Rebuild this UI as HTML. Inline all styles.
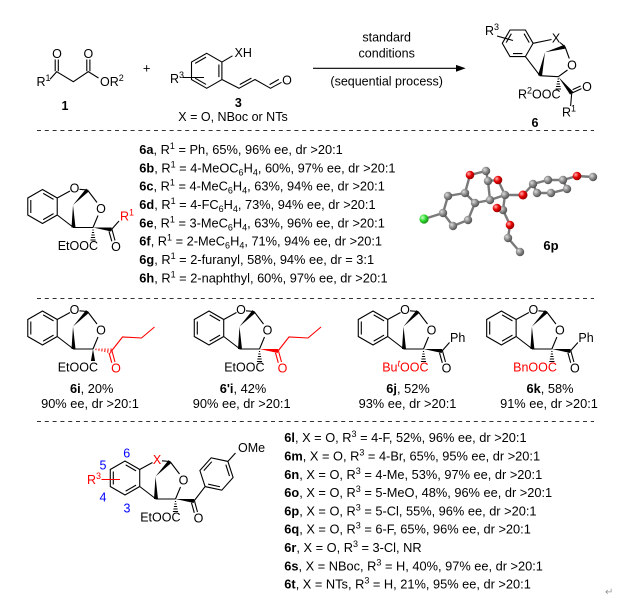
<!DOCTYPE html>
<html><head><meta charset="utf-8">
<style>
html,body{margin:0;padding:0;background:#fff;}
svg{display:block;font-family:"Liberation Sans",Arial,sans-serif;}
</style></head><body>
<svg width="625" height="607" viewBox="0 0 625 607" xmlns="http://www.w3.org/2000/svg">
<defs>
<radialGradient id="gg" cx="35%" cy="35%" r="70%"><stop offset="0" stop-color="#dcdcdc"/><stop offset="0.5" stop-color="#8c8c8c"/><stop offset="1" stop-color="#4a4a4a"/></radialGradient>
<radialGradient id="gr" cx="35%" cy="35%" r="70%"><stop offset="0" stop-color="#ffb0b0"/><stop offset="0.5" stop-color="#e60000"/><stop offset="1" stop-color="#8a0000"/></radialGradient>
<radialGradient id="gc" cx="35%" cy="35%" r="70%"><stop offset="0" stop-color="#c8ffc8"/><stop offset="0.5" stop-color="#33dd33"/><stop offset="1" stop-color="#118811"/></radialGradient>
</defs>

<!-- ===== Top reaction ===== -->
<g font-size="12.5" fill="#000">
<!-- reactant 1 -->
<g fill="none" stroke="#000" stroke-width="1.1">
<path d="M50,79.3L56.7,71.7L73.3,81.7L88.3,71.7L98.5,78 M55.2,71.2L55.2,59.5 M58.3,71.2L58.3,59.5 M86.8,71.2L86.8,59.5 M89.9,71.2L89.9,59.5"/>
</g>
<text x="57" y="58" text-anchor="middle">O</text>
<text x="88.4" y="58" text-anchor="middle">O</text>
<text x="36.5" y="86">R<tspan font-size="9" dy="-5">1</tspan></text>
<text x="100" y="86">OR<tspan font-size="9" dy="-5">2</tspan></text>
<text x="65" y="110" text-anchor="middle" font-weight="bold">1</text>
<text x="146.7" y="72.5" text-anchor="middle" font-size="13">+</text>

<!-- reactant 3 -->
<g fill="none" stroke="#000" stroke-width="1.1">
<path d="M206.7,53.3L221.9,62.05L221.9,79.55L206.7,88.3L191.5,79.55L191.5,62.05Z M218.9,64.5L218.9,77.1 M195.17,63.4L206.03,57.15 M195.17,78.2L206.03,84.45 M221.9,62.05L232.5,55.8 M221.9,79.55L239,88.3L255,79.55L270.5,88.3L281.5,82.3 M239.8,84.5L251.4,78.1 M269.6,84.6L278.8,79.4 M183,77.5L204,77.5"/>
</g>
<text x="234.5" y="57">XH</text>
<text x="287" y="84.5" text-anchor="middle">O</text>
<text x="170" y="83">R<tspan font-size="9" dy="-5">3</tspan></text>
<text x="238.3" y="107" text-anchor="middle" font-weight="bold">3</text>
<text x="233" y="121" text-anchor="middle">X = O, NBoc or NTs</text>

<!-- arrow -->
<line x1="313" y1="68.3" x2="458" y2="68.3" stroke="#000" stroke-width="1.1"/>
<polygon points="465.7,68.3 456,64.9 456,71.7" fill="#000"/>
<text x="386.7" y="41.7" text-anchor="middle">standard</text>
<text x="386.7" y="57.5" text-anchor="middle">conditions</text>
<text x="386.7" y="85.5" text-anchor="middle">(sequential process)</text>

<!-- product 6 -->
<g fill="none" stroke="#000" stroke-width="1.1">
<path d="M510,30L525.4,30L533.1,43.3L525.4,56.6L510,56.6L502.3,43.3Z M524.05,33.67L529.25,42.63 M513,53.6L522.4,53.6 M506.15,42.63L511.35,33.67 M497,36L513,40.5 M533.1,43.3L551.5,39.5 M560,42.5L565,46.7 M525.4,56.6L540,75.7L558.3,76.7 M565,46.7L569.3,58.5 M558.3,76.7L567.5,70 M571.7,93.3L570.6,106 M572,93L581.5,88.6 M572.6,89.6L580.6,86"/>
<path stroke-width="1" d="M557.6,79h1.4 M557.1,81.5h2.4 M556.6,84h3.4 M556.1,86.5h4.4 M555.6,89h5.4"/>
</g>
<polygon points="545,52.3 565.5,48.6 564.5,44.8" fill="#000"/>
<polygon points="545,52.3 542,76.1 538,75.3" fill="#000"/>
<polygon points="558.3,76.7 573.3,92 570.1,94.6" fill="#000"/>
<text x="485" y="35">R<tspan font-size="9" dy="-5">3</tspan></text>
<text x="556" y="42.5" text-anchor="middle">X</text>
<text x="572" y="69.5" text-anchor="middle">O</text>
<text x="560.5" y="98.3" text-anchor="end">R<tspan font-size="9" dy="-5">2</tspan><tspan dy="5">OOC</tspan></text>
<text x="587" y="91" text-anchor="middle">O</text>
<text x="562" y="116.7">R<tspan font-size="9" dy="-5">1</tspan></text>
<text x="535" y="127" text-anchor="middle" font-weight="bold">6</text>
</g>

<!-- separators -->
<g stroke="#333" stroke-width="1" stroke-dasharray="4,3.8">
<line x1="37" y1="130.5" x2="594" y2="130.5"/>
<line x1="37" y1="298.5" x2="594" y2="298.5"/>
<line x1="37" y1="421.5" x2="594" y2="421.5"/>
</g>

<!-- ===== 6a ===== -->
<g transform="translate(42.5,206.5)" font-size="12.5">
<path fill="none" stroke="#000" stroke-width="1.1" d="M0,-17L14.72,-8.5L14.72,8.5L0,17L-14.72,8.5L-14.72,-8.5Z M-11.7,-6.5L-11.7,6.5 M0.67,-13.15L11.05,-7.15 M0.67,13.15L11.05,7.15 M14.72,-8.5L27.5,-15.5 M37,-17.2L45,-16.5 M14.72,8.5L31,21L50.5,21 M45,-16.5L54.5,-4 M50.5,21L55.5,9 M69.5,23L72.5,34 M66.5,24.8L69.3,34.8 M69,23L76.5,14.5"/>
<path stroke="#000" stroke-width="1" d="M49.9,23.5h1.2 M49.4,26h2.2 M48.9,28.5h3.2 M48.4,31h4.2 M47.9,33.5h5.2"/>
<polygon points="30.5,-1.5 46.4,-15.1 43.6,-17.9"/>
<polygon points="30.5,-1.5 33,21 29,21"/>
<polygon points="50.5,21 68.8,25 69.2,21"/>
<text x="32" y="-14" text-anchor="middle">O</text>
<text x="58.5" y="6.5" text-anchor="middle">O</text>
<text x="73.5" y="44.5" text-anchor="middle">O</text>
<text x="55.5" y="43.5" text-anchor="end">EtOOC</text>
<text x="77.5" y="14" fill="#f00">R<tspan font-size="9" dy="-5">1</tspan></text>
</g>

<!-- list 6a-6h -->
<g font-size="12.8" fill="#000">
<text x="139.3" y="154"><tspan font-weight="bold">6a</tspan>, R<tspan font-size="9" dy="-5">1</tspan><tspan dy="5"> = Ph, 65%, 96% ee, dr &gt;20:1</tspan></text>
<text x="139.3" y="172.3"><tspan font-weight="bold">6b</tspan>, R<tspan font-size="9" dy="-5">1</tspan><tspan dy="5"> = 4-MeOC</tspan><tspan font-size="9" dy="3">6</tspan><tspan dy="-3">H</tspan><tspan font-size="9" dy="3">4</tspan><tspan dy="-3">, 60%, 97% ee, dr &gt;20:1</tspan></text>
<text x="139.3" y="190.7"><tspan font-weight="bold">6c</tspan>, R<tspan font-size="9" dy="-5">1</tspan><tspan dy="5"> = 4-MeC</tspan><tspan font-size="9" dy="3">6</tspan><tspan dy="-3">H</tspan><tspan font-size="9" dy="3">4</tspan><tspan dy="-3">, 63%, 94% ee, dr &gt;20:1</tspan></text>
<text x="139.3" y="209"><tspan font-weight="bold">6d</tspan>, R<tspan font-size="9" dy="-5">1</tspan><tspan dy="5"> = 4-FC</tspan><tspan font-size="9" dy="3">6</tspan><tspan dy="-3">H</tspan><tspan font-size="9" dy="3">4</tspan><tspan dy="-3">, 73%, 94% ee, dr &gt;20:1</tspan></text>
<text x="139.3" y="227.3"><tspan font-weight="bold">6e</tspan>, R<tspan font-size="9" dy="-5">1</tspan><tspan dy="5"> = 3-MeC</tspan><tspan font-size="9" dy="3">6</tspan><tspan dy="-3">H</tspan><tspan font-size="9" dy="3">4</tspan><tspan dy="-3">, 63%, 96% ee, dr &gt;20:1</tspan></text>
<text x="139.3" y="245.7"><tspan font-weight="bold">6f</tspan>, R<tspan font-size="9" dy="-5">1</tspan><tspan dy="5"> = 2-MeC</tspan><tspan font-size="9" dy="3">6</tspan><tspan dy="-3">H</tspan><tspan font-size="9" dy="3">4</tspan><tspan dy="-3">, 71%, 94% ee, dr &gt;20:1</tspan></text>
<text x="139.3" y="264"><tspan font-weight="bold">6g</tspan>, R<tspan font-size="9" dy="-5">1</tspan><tspan dy="5"> = 2-furanyl, 58%, 94% ee, dr = 3:1</tspan></text>
<text x="139.3" y="282.3"><tspan font-weight="bold">6h</tspan>, R<tspan font-size="9" dy="-5">1</tspan><tspan dy="5"> = 2-naphthyl, 60%, 97% ee, dr &gt;20:1</tspan></text>
</g>

<!-- 6p crystal structure -->
<g stroke="#7a7a7a" stroke-width="2.4" stroke-linecap="round" fill="none">
<path d="M424,219L443,213L448,196L465,193L470,175L486,171L488,181L498,180L505,195 M465,193L475,203L468,220L453,226L443,213 M475,203L490,200L488,181 M490,200L505,195L503,210L497,208 M503,210L510,225L508,238L520,252 M505,195L523,195L533,184 M533,184L548,180L563,180L567,189L551,193L537,193L533,184 M563,180L577,176L593,177"/>
</g>
<g>
<circle cx="453" cy="226" r="4.2" fill="url(#gg)"/>
<circle cx="468" cy="220" r="4.2" fill="url(#gg)"/>
<circle cx="443" cy="213" r="4.2" fill="url(#gg)"/>
<circle cx="448" cy="196" r="4.2" fill="url(#gg)"/>
<circle cx="465" cy="193" r="4.2" fill="url(#gg)"/>
<circle cx="475" cy="203" r="4.2" fill="url(#gg)"/>
<circle cx="486" cy="171" r="4.2" fill="url(#gg)"/>
<circle cx="488" cy="181" r="4.2" fill="url(#gg)"/>
<circle cx="490" cy="200" r="4.2" fill="url(#gg)"/>
<circle cx="505" cy="195" r="4.2" fill="url(#gg)"/>
<circle cx="503" cy="210" r="4.2" fill="url(#gg)"/>
<circle cx="508" cy="238" r="4.2" fill="url(#gg)"/>
<circle cx="520" cy="252" r="4.2" fill="url(#gg)"/>
<circle cx="537" cy="193" r="4.2" fill="url(#gg)"/>
<circle cx="551" cy="193" r="4.2" fill="url(#gg)"/>
<circle cx="533" cy="184" r="4.2" fill="url(#gg)"/>
<circle cx="548" cy="180" r="4.2" fill="url(#gg)"/>
<circle cx="567" cy="189" r="4.2" fill="url(#gg)"/>
<circle cx="563" cy="180" r="4.2" fill="url(#gg)"/>
<circle cx="593" cy="177" r="4.2" fill="url(#gg)"/>
<circle cx="470" cy="175" r="4.3" fill="url(#gr)"/>
<circle cx="498" cy="180" r="4.3" fill="url(#gr)"/>
<circle cx="497" cy="208" r="4.3" fill="url(#gr)"/>
<circle cx="510" cy="225" r="4.3" fill="url(#gr)"/>
<circle cx="523" cy="195" r="4.5" fill="url(#gr)"/>
<circle cx="577" cy="176" r="4.3" fill="url(#gr)"/>
<circle cx="424" cy="219" r="4.6" fill="url(#gc)"/>
</g>
<text x="551" y="250" text-anchor="middle" font-size="13" font-weight="bold">6p</text>

<!-- ===== 6i ===== -->
<g transform="translate(42.5,328)" font-size="12.5">
<path fill="none" stroke="#000" stroke-width="1.1" d="M0,-17L14.72,-8.5L14.72,8.5L0,17L-14.72,8.5L-14.72,-8.5Z M-11.7,-6.5L-11.7,6.5 M0.67,-13.15L11.05,-7.15 M0.67,13.15L11.05,7.15 M14.72,-8.5L27.5,-15.5 M37,-17.2L45,-16.5 M14.72,8.5L31,21L50.5,21 M45,-16.5L54.5,-4 M50.5,21L55.5,9"/>
<polygon points="30.5,-1.5 46.4,-15.1 43.6,-17.9"/>
<polygon points="30.5,-1.5 33,21 29,21"/>
<polygon points="50.5,21 52.6,33 48.4,33"/>
<path stroke="#f00" stroke-width="1" d="M53.39,22.15L53.57,20.5 M56.34,22.79L56.58,20.49 M59.29,23.45L59.61,20.47 M62.23,24.09L62.62,20.47 M65.18,24.75L65.64,20.47 M68.12,25.42L68.66,20.44"/>
<path fill="none" stroke="#f00" stroke-width="1.1" d="M69,23L80,9L99,10L112,-1 M69.5,23L72.5,34 M66.5,24.8L69.3,34.8"/>
<text x="32" y="-14" text-anchor="middle">O</text>
<text x="58.5" y="6.5" text-anchor="middle">O</text>
<text x="73.5" y="44.5" text-anchor="middle" fill="#f00">O</text>
<text x="55.5" y="43.5" text-anchor="end">EtOOC</text>
</g>

<!-- ===== 6'i ===== -->
<g transform="translate(209,328)" font-size="12.5">
<path fill="none" stroke="#000" stroke-width="1.1" d="M0,-17L14.72,-8.5L14.72,8.5L0,17L-14.72,8.5L-14.72,-8.5Z M-11.7,-6.5L-11.7,6.5 M0.67,-13.15L11.05,-7.15 M0.67,13.15L11.05,7.15 M14.72,-8.5L27.5,-15.5 M37,-17.2L45,-16.5 M14.72,8.5L31,21L50.5,21 M45,-16.5L54.5,-4 M50.5,21L55.5,9"/>
<path stroke="#000" stroke-width="1" d="M49.9,23.5h1.2 M49.4,26h2.2 M48.9,28.5h3.2 M48.4,31h4.2 M47.9,33.5h5.2"/>
<polygon points="30.5,-1.5 46.4,-15.1 43.6,-17.9"/>
<polygon points="30.5,-1.5 33,21 29,21"/>
<polygon points="50.5,21 68.8,25 69.2,21" fill="#f00"/>
<path fill="none" stroke="#f00" stroke-width="1.1" d="M69,23L80,9L99,10L112,-1 M69.5,23L72.5,34 M66.5,24.8L69.3,34.8"/>
<text x="32" y="-14" text-anchor="middle">O</text>
<text x="58.5" y="6.5" text-anchor="middle">O</text>
<text x="73.5" y="44.5" text-anchor="middle" fill="#f00">O</text>
<text x="55.5" y="43.5" text-anchor="end">EtOOC</text>
</g>

<!-- ===== 6j ===== -->
<g transform="translate(373,328)" font-size="12.5">
<path fill="none" stroke="#000" stroke-width="1.1" d="M0,-17L14.72,-8.5L14.72,8.5L0,17L-14.72,8.5L-14.72,-8.5Z M-11.7,-6.5L-11.7,6.5 M0.67,-13.15L11.05,-7.15 M0.67,13.15L11.05,7.15 M14.72,-8.5L27.5,-15.5 M37,-17.2L45,-16.5 M14.72,8.5L31,21L50.5,21 M45,-16.5L54.5,-4 M50.5,21L55.5,9 M69.5,23L72.5,34 M66.5,24.8L69.3,34.8 M69,23L76.5,14.5"/>
<path stroke="#000" stroke-width="1" d="M49.9,23.5h1.2 M49.4,26h2.2 M48.9,28.5h3.2 M48.4,31h4.2 M47.9,33.5h5.2"/>
<polygon points="30.5,-1.5 46.4,-15.1 43.6,-17.9"/>
<polygon points="30.5,-1.5 33,21 29,21"/>
<polygon points="50.5,21 68.8,25 69.2,21"/>
<text x="32" y="-14" text-anchor="middle">O</text>
<text x="58.5" y="6.5" text-anchor="middle">O</text>
<text x="73.5" y="44.5" text-anchor="middle">O</text>
<text x="55.5" y="43.5" text-anchor="end" fill="#f00">Bu<tspan font-size="9" dy="-5" font-style="italic">t</tspan><tspan dy="5">OOC</tspan></text>
<text x="77" y="14">Ph</text>
</g>

<!-- ===== 6k ===== -->
<g transform="translate(501.4,328)" font-size="12.5">
<path fill="none" stroke="#000" stroke-width="1.1" d="M0,-17L14.72,-8.5L14.72,8.5L0,17L-14.72,8.5L-14.72,-8.5Z M-11.7,-6.5L-11.7,6.5 M0.67,-13.15L11.05,-7.15 M0.67,13.15L11.05,7.15 M14.72,-8.5L27.5,-15.5 M37,-17.2L45,-16.5 M14.72,8.5L31,21L50.5,21 M45,-16.5L54.5,-4 M50.5,21L55.5,9 M69.5,23L72.5,34 M66.5,24.8L69.3,34.8 M69,23L76.5,14.5"/>
<path stroke="#000" stroke-width="1" d="M49.9,23.5h1.2 M49.4,26h2.2 M48.9,28.5h3.2 M48.4,31h4.2 M47.9,33.5h5.2"/>
<polygon points="30.5,-1.5 46.4,-15.1 43.6,-17.9"/>
<polygon points="30.5,-1.5 33,21 29,21"/>
<polygon points="50.5,21 68.8,25 69.2,21"/>
<text x="32" y="-14" text-anchor="middle">O</text>
<text x="58.5" y="6.5" text-anchor="middle">O</text>
<text x="73.5" y="44.5" text-anchor="middle">O</text>
<text x="55.5" y="43.5" text-anchor="end" fill="#f00">BnOOC</text>
<text x="77" y="14">Ph</text>
</g>

<!-- captions row -->
<g font-size="12.8" text-anchor="middle">
<text x="91.7" y="393"><tspan font-weight="bold">6i</tspan>, 20%</text>
<text x="90" y="408">90% ee, dr &gt;20:1</text>
<text x="243" y="393"><tspan font-weight="bold">6'i</tspan>, 42%</text>
<text x="241.7" y="408">90% ee, dr &gt;20:1</text>
<text x="408" y="393"><tspan font-weight="bold">6j</tspan>, 52%</text>
<text x="407.5" y="408">93% ee, dr &gt;20:1</text>
<text x="550" y="393"><tspan font-weight="bold">6k</tspan>, 58%</text>
<text x="549" y="408">91% ee, dr &gt;20:1</text>
</g>

<!-- ===== 6l-6t general structure ===== -->
<g transform="translate(125,478)" font-size="12.5">
<path fill="none" stroke="#000" stroke-width="1.1" d="M0,-17L14.72,-8.5L14.72,8.5L0,17L-14.72,8.5L-14.72,-8.5Z M-11.7,-6.5L-11.7,6.5 M0.67,-13.15L11.05,-7.15 M0.67,13.15L11.05,7.15 M14.72,-8.5L27.5,-15.5 M37,-17.2L45,-16.5 M14.72,8.5L31,21L50.5,21 M45,-16.5L54.5,-4 M50.5,21L55.5,9 M69.5,23L72.5,34 M66.5,24.8L69.3,34.8"/>
<path stroke="#000" stroke-width="1" d="M49.9,23.5h1.2 M49.4,26h2.2 M48.9,28.5h3.2 M48.4,31h4.2 M47.9,33.5h5.2"/>
<polygon points="30.5,-1.5 46.4,-15.1 43.6,-17.9"/>
<polygon points="30.5,-1.5 33,21 29,21"/>
<polygon points="50.5,21 68.8,25 69.2,21"/>
<text x="32" y="-14" text-anchor="middle" fill="#f00">X</text>
<text x="58.5" y="6.5" text-anchor="middle">O</text>
<text x="73.5" y="44.5" text-anchor="middle">O</text>
<text x="55.5" y="43.5" text-anchor="end">EtOOC</text>
</g>
<path fill="none" stroke="#000" stroke-width="1.1" d="M194,501L205.1,486.6 M205.1,486.6L199.9,470.5L211.2,457.8L227.9,461.4L233.1,477.5L221.8,490.2Z M203.79,470.64L211.77,461.68 M225.82,464.71L229.48,476.05 M219.98,486.74L208.16,484.2 M227.9,461.4L235.5,453"/>
<text x="238" y="452" font-size="12.5">OMe</text>
<line x1="101.5" y1="479.5" x2="120" y2="479.5" stroke="#f00" stroke-width="1.1"/>
<text x="87" y="484" font-size="12.5" fill="#f00">R<tspan font-size="9" dy="-5">3</tspan></text>
<g font-size="12.5" fill="#00f" text-anchor="middle">
<text x="126.7" y="457.5">6</text>
<text x="103" y="469.5">5</text>
<text x="103" y="501.5">4</text>
<text x="127" y="512.5">3</text>
</g>

<!-- list 6l-6t -->
<g font-size="12.8" fill="#000">
<text x="284.3" y="442.2"><tspan font-weight="bold">6l</tspan>, X = O, R<tspan font-size="9" dy="-5">3</tspan><tspan dy="5"> = 4-F, 52%, 96% ee, dr &gt;20:1</tspan></text>
<text x="284.3" y="460.5"><tspan font-weight="bold">6m</tspan>, X = O, R<tspan font-size="9" dy="-5">3</tspan><tspan dy="5"> = 4-Br, 65%, 95% ee, dr &gt;20:1</tspan></text>
<text x="284.3" y="478.8"><tspan font-weight="bold">6n</tspan>, X = O, R<tspan font-size="9" dy="-5">3</tspan><tspan dy="5"> = 4-Me, 53%, 97% ee, dr &gt;20:1</tspan></text>
<text x="284.3" y="497.1"><tspan font-weight="bold">6o</tspan>, X = O, R<tspan font-size="9" dy="-5">3</tspan><tspan dy="5"> = 5-MeO, 48%, 96% ee, dr &gt;20:1</tspan></text>
<text x="284.3" y="515.4"><tspan font-weight="bold">6p</tspan>, X = O, R<tspan font-size="9" dy="-5">3</tspan><tspan dy="5"> = 5-Cl, 55%, 96% ee, dr &gt;20:1</tspan></text>
<text x="284.3" y="533.7"><tspan font-weight="bold">6q</tspan>, X = O, R<tspan font-size="9" dy="-5">3</tspan><tspan dy="5"> = 6-F, 65%, 96% ee, dr &gt;20:1</tspan></text>
<text x="284.3" y="552"><tspan font-weight="bold">6r</tspan>, X = O, R<tspan font-size="9" dy="-5">3</tspan><tspan dy="5"> = 3-Cl, NR</tspan></text>
<text x="284.3" y="570.3"><tspan font-weight="bold">6s</tspan>, X = NBoc, R<tspan font-size="9" dy="-5">3</tspan><tspan dy="5"> = H, 40%, 97% ee, dr &gt;20:1</tspan></text>
<text x="284.3" y="588.6"><tspan font-weight="bold">6t</tspan>, X = NTs, R<tspan font-size="9" dy="-5">3</tspan><tspan dy="5"> = H, 21%, 95% ee, dr &gt;20:1</tspan></text>
</g>
<text x="605" y="595" font-size="10" fill="#999">↵</text>
</svg>
</body></html>
